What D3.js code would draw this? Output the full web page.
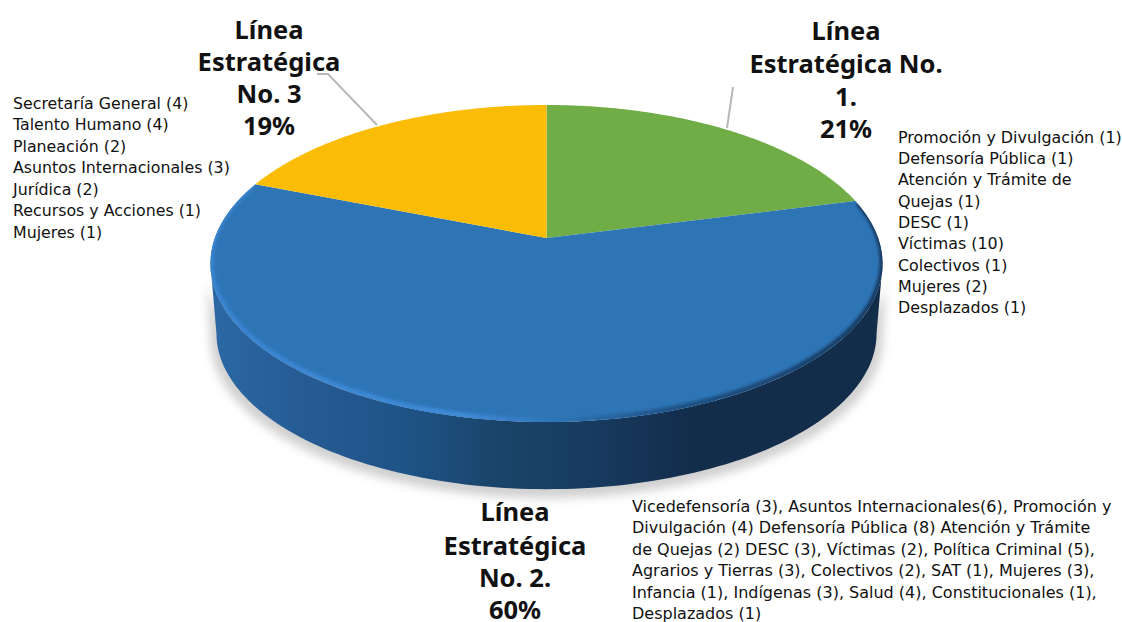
<!DOCTYPE html>
<html><head><meta charset="utf-8">
<script src="https://cdn.jsdelivr.net/npm/d3@7"></script>
<style>html,body{margin:0;background:#fff}svg{display:block}text{font-family:"Noto Sans",sans-serif;fill:#111}</style>
</head><body><svg id="c" width="1122" height="622"></svg>
<script>
const categories=["Línea Estratégica No. 1.","Línea Estratégica No. 2.","Línea Estratégica No. 3"];
const values=[21,60,19];
const colors=["#70AD47","#2E75B6","#FBBC05"];
const titleLine1=["Línea","Estratégica No.","1.","21%"];
const titleLine2=["Línea","Estratégica","No. 2.","60%"];
const titleLine3=["Línea","Estratégica","No. 3","19%"];
const list1=["Promoción y Divulgación (1)","Defensoría Pública (1)","Atención y Trámite de","Quejas (1)","DESC (1)","Víctimas (10)","Colectivos (1)","Mujeres (2)","Desplazados (1)"];
const list2=["Vicedefensoría (3), Asuntos Internacionales(6), Promoción y","Divulgación (4) Defensoría Pública (8) Atención y Trámite","de Quejas (2) DESC (3), Víctimas (2), Política Criminal (5),","Agrarios y Tierras (3), Colectivos (2), SAT (1), Mujeres (3),","Infancia (1), Indígenas (3), Salud (4), Constitucionales (1),","Desplazados (1)"];
const list3=["Secretaría General (4)","Talento Humano (4)","Planeación (2)","Asuntos Internacionales (3)","Jurídica (2)","Recursos y Acciones (1)","Mujeres (1)"];

const svg=d3.select("#c");
const cx=546.5,cy=238,R=331.7,Q=154.4,k=0.161,depth=70;
const proj=(a,dz=0,s=1)=>{const X=Math.sin(a),Y=Math.cos(a),w=1+k*Y;
  return [cx+s*R*X/w, cy-s*Q*Y/w+dz+(1-s)*25];};
const arcs=d3.pie().sort(null)(values);
const line=d3.line();
const arcPts=(a0,a1,dz,s)=>d3.range(0,121).map(i=>proj(a0+(a1-a0)*i/120,dz,s));

const defs=svg.append("defs");
const sg=defs.append("linearGradient").attr("id","side").attr("gradientUnits","userSpaceOnUse")
  .attr("x1",207).attr("x2",875).attr("y1",0).attr("y2",0);
[[0,"#2b69a6"],[.14,"#265c94"],[.29,"#1f5488"],[.44,"#1a4469"],[.59,"#173a5e"],[.72,"#132d4c"],[1,"#122d4a"]]
 .forEach(d=>sg.append("stop").attr("offset",d[0]).attr("stop-color",d[1]));
const rg=defs.append("linearGradient").attr("id","rim").attr("gradientUnits","userSpaceOnUse")
  .attr("x1",207).attr("x2",875).attr("y1",0).attr("y2",0);
[[0,"#3a84d0"],[.38,"#3f8ad8"],[.52,"#2e75b6"],[.68,"#1f5488"],[1,"#16395f"]]
 .forEach(d=>rg.append("stop").attr("offset",d[0]).attr("stop-color",d[1]));
defs.append("filter").attr("id","blur8").attr("x","-10%").attr("y","-10%").attr("width","120%").attr("height","120%")
  .append("feGaussianBlur").attr("stdDeviation",5);
defs.append("filter").attr("id","blur2").attr("x","-10%").attr("y","-10%").attr("width","120%").attr("height","120%")
  .append("feGaussianBlur").attr("stdDeviation",1.8);
const full=arcPts(0,2*Math.PI,0,1);
defs.append("clipPath").attr("id","topclip").append("path").attr("d",line(full)+"Z");

const fa=Math.PI*.552,fb=Math.PI*1.448;
// shadow
svg.append("path").attr("d",line(arcPts(fa,fb,6,1.012).concat(arcPts(fb,fa,depth+6,1.0)))+"Z")
  .attr("fill","#c4c4c4").attr("filter","url(#blur8)").attr("opacity",.8);

// side wall of the blue slice
const wall=arcPts(fa,fb,0,1).concat(arcPts(fb,fa,depth,.982));
svg.append("path").attr("d",line(wall)+"Z").attr("fill","url(#side)");

// top face
svg.selectAll("path.slice").data(arcs).join("path").attr("class","slice")
  .attr("fill",(d,i)=>colors[i])
  .attr("d",d=>line([[cx,cy]].concat(arcPts(d.startAngle,d.endAngle,0,1)))+"Z");

// bevel on the front rim
svg.append("g").attr("clip-path","url(#topclip)").append("path")
  .attr("d",line(arcPts(arcs[1].startAngle+.02,arcs[2].startAngle-.02,-1.5,1)))
  .attr("fill","none").attr("stroke","url(#rim)").attr("stroke-width",6).attr("filter","url(#blur2)");

// leaders
[[[317,74],[328,74],[377,125]],[[733,87],[727,128]]].forEach(p=>
 svg.append("path").attr("d",line(p)).attr("fill","none").attr("stroke","#b8b8b8").attr("stroke-width",2));

// titles
const title=(lines,x,ys)=>svg.append("g").selectAll("text").data(lines).join("text")
  .attr("x",x).attr("y",(d,i)=>ys[i]).attr("text-anchor","middle")
  .attr("font-size",25.5).attr("font-weight",700).text(d=>d);
title(titleLine3,269,[39,71,103,135]);
title(titleLine1,846,[40,73,106,138]);
title(titleLine2,515,[521,555,587,619]);

const list=(lines,x,y0,dy,fs)=>svg.append("g").selectAll("text").data(lines).join("text")
  .attr("x",x).attr("y",(d,i)=>y0+i*dy).attr("font-size",fs).style("font-family","'DejaVu Sans'").text(d=>d);
list(list3,13,108.5,21.5,15.8);
list(list1,898,142.5,21.35,15.9);
list(list2,632,511.5,21.5,16);
</script></body></html>
